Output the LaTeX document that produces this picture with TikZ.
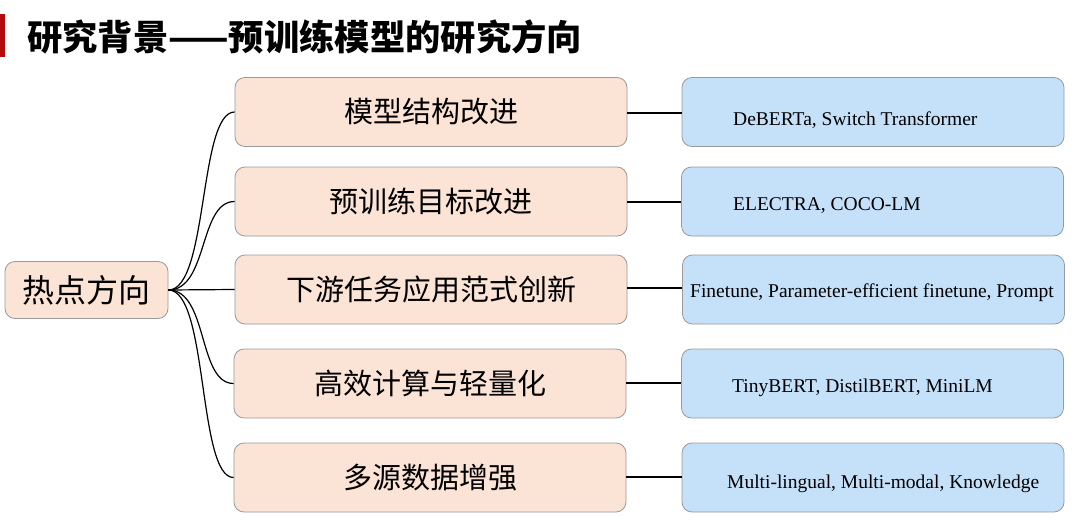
\documentclass[tikz,border=0pt]{standalone}
\usepackage{fontspec}
\setmainfont{Liberation Serif}
\newfontfamily\cjk{Noto Sans CJK SC}
\newfontfamily\cjkbold{Noto Sans CJK SC Black}
\definecolor{peach}{HTML}{FBE4D6}
\definecolor{skyblue}{HTML}{C5E0F9}
\definecolor{edgegray}{HTML}{9A9A9A}
\definecolor{barred}{HTML}{B40C0C}
\tikzset{
  topic/.style={draw=edgegray, line width=0.8pt, fill=peach, rounded corners=10pt,
    minimum width=392pt, minimum height=69pt, inner sep=0pt,
    font=\cjk\fontsize{29}{32}\selectfont},
  rootbox/.style={draw=edgegray, line width=0.8pt, fill=peach, rounded corners=10pt,
    minimum width=163pt, minimum height=57pt, inner sep=0pt,
    font=\cjk\fontsize{32}{36}\selectfont},
  example/.style={draw=edgegray, line width=0.8pt, fill=skyblue, rounded corners=10pt,
    minimum width=382pt, minimum height=69pt, inner sep=0pt},
  extext/.style={anchor=base west, inner sep=0pt, font=\fontsize{19.5}{22}\selectfont},
  branch/.style={line width=1.2pt, black},
  link/.style={line width=1.4pt, black}
}
\begin{document}
\begin{tikzpicture}[x=1pt, y=-1pt]
\useasboundingbox (0,0) rectangle (1090,530);
\fill[white] (0,0) rectangle (1090,530);
% title
\fill[barred] (0,14) rectangle (5,57);
\node[anchor=west, inner sep=0pt, font=\cjkbold\fontsize{35.3}{38}\selectfont] (title) at (27,37) {研究背景——预训练模型的研究方向};
% root
\node[rootbox] (root) at (86.5,290) {热点方向};
% topics
\node[topic] (m1) at (431,112) {模型结构改进};
\node[topic] (m2) at (431,201.5) {预训练目标改进};
\node[topic] (m3) at (431,289.5) {下游任务应用范式创新};
\node[topic] (m4) at (430,383.5) {高效计算与轻量化};
\node[topic] (m5) at (430,477.5) {多源数据增强};
% examples
\node[example] (e1) at (873,112) {};
\node[example] (e2) at (872.5,201.5) {};
\node[example] (e3) at (873.5,289.5) {};
\node[example] (e4) at (872.5,383.5) {};
\node[example] (e5) at (873,477.5) {};
\node[extext] (t1) at (733,125) {DeBERTa, Switch Transformer};
\node[extext] (t2) at (733,210) {ELECTRA, COCO-LM};
\node[extext] (t3) at (690,297) {Finetune, Parameter-efficient finetune, Prompt};
\node[extext] (t4) at (732,392.5) {TinyBERT, DistilBERT, MiniLM};
\node[extext] (t5) at (727,488) {Multi-lingual, Multi-modal, Knowledge};
% branches
\foreach \m in {m1,m2,m4,m5}{
  \draw[branch] (root.east) .. controls +(40,0) and +(-36,0) .. (\m.west);
}
\draw[branch] (root.east) -- (m3.west);
% links
\draw[link] (m1.east |- 0,113) -- (e1.west |- 0,113);
\draw[link] (m2.east |- 0,202) -- (e2.west |- 0,202);
\draw[link] (m3.east |- 0,288) -- (e3.west |- 0,288);
\draw[link] (m4.east |- 0,383) -- (e4.west |- 0,383);
\draw[link] (m5.east |- 0,477) -- (e5.west |- 0,477);
\end{tikzpicture}
\end{document}
